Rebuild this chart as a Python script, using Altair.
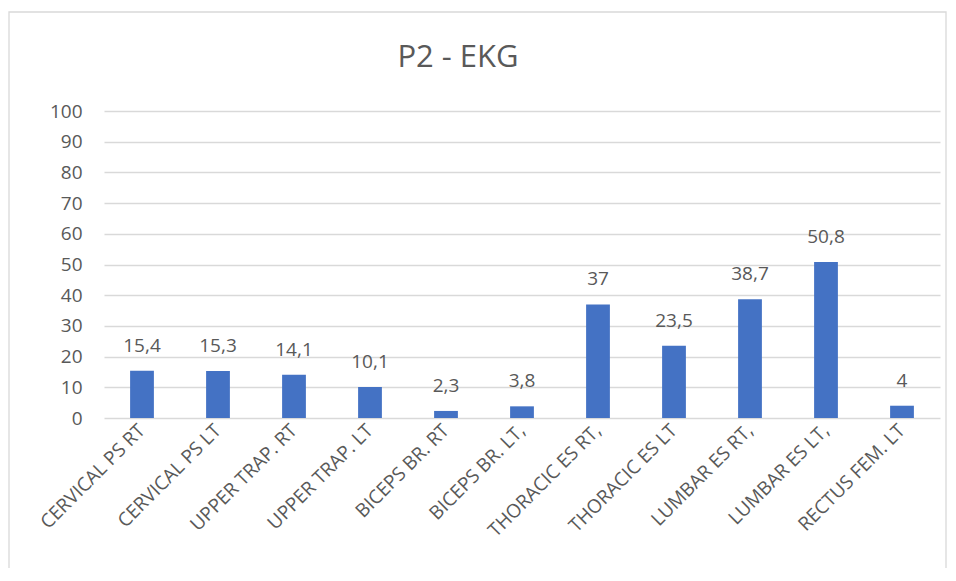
import altair as alt
import pandas as pd

categories = ["CERVICAL PS RT", "CERVICAL PS LT", "UPPER TRAP. RT", "UPPER TRAP. LT",
              "BICEPS BR. RT", "BICEPS BR. LT,", "THORACIC ES RT,", "THORACIC ES LT",
              "LUMBAR ES RT,", "LUMBAR ES LT,", "RECTUS FEM. LT"]
values = [15.4, 15.3, 14.1, 10.1, 2.3, 3.8, 37, 23.5, 38.7, 50.8, 4]

df = pd.DataFrame({"cat": categories, "v": values})

FONT = "Open Sans"
TXT = "#595959"

base = alt.Chart(df).encode(
    x=alt.X("cat:N", sort=categories, title=None,
            scale=alt.Scale(paddingInner=0.687, paddingOuter=0.3435),
            axis=alt.Axis(labelAngle=-45, labelAlign="right", labelBaseline="middle",
                          labelFont=FONT, labelFontSize=19, labelColor=TXT,
                          domain=False, ticks=False, labelPadding=9, labelOverlap=False)),
    y=alt.Y("v:Q", title=None,
            scale=alt.Scale(domain=[0, 100], nice=False),
            axis=alt.Axis(values=list(range(0, 101, 10)), domain=False, ticks=False,
                          labelOverlap=False,
                          labelFont=FONT, labelFontSize=19, labelColor=TXT,
                          labelPadding=22, gridColor="#D9D9D9", gridWidth=1.3)),
)

bars = base.mark_bar(color="#4472C4")

labels = base.transform_calculate(
    lab="replace(format(datum.v, ''), '.', ',')"
).mark_text(font=FONT, fontSize=19, color=TXT, baseline="alphabetic", dy=-19).encode(
    text="lab:N"
)

border = alt.Chart(alt.Data(values=[{"a": 1}])).mark_rect(
    fill=None, stroke="#D9D9D9", strokeWidth=1.3
).encode(x=alt.value(-95), x2=alt.value(842), y=alt.value(-99), y2=alt.value(462))

chart = alt.layer(border, bars, labels).properties(
    width=836, height=307,
    background="white",
    title=alt.TitleParams("P2 - EKG", font=FONT, fontSize=31, fontWeight="normal",
                          color=TXT, anchor="middle", frame="group", dx=-64, offset=-63),
    autosize=alt.AutoSizeParams(type="none"),
    padding={"left": 96, "top": 103, "right": 8, "bottom": 150},
).configure_view(stroke=None)

chart.save("out.html", embed_options={"renderer": "svg", "actions": False})
